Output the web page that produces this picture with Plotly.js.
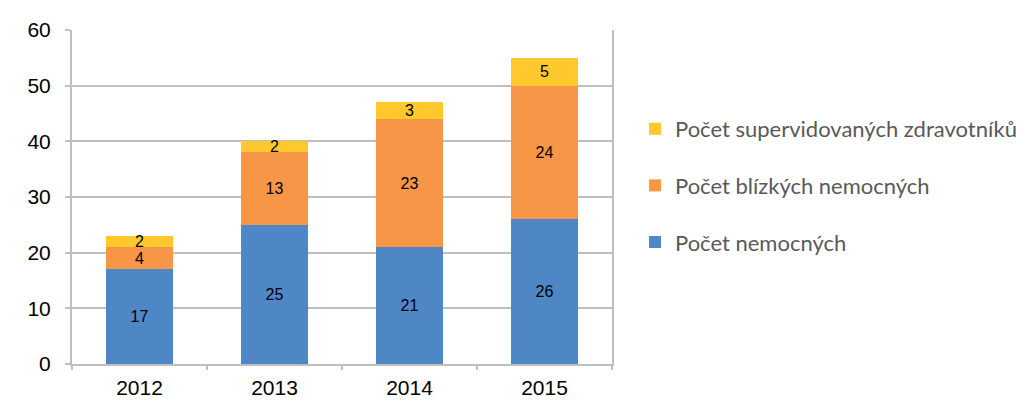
<!DOCTYPE html>
<html>
<head>
<meta charset="utf-8">
<script src="https://cdn.plot.ly/plotly-3.0.1.min.js"></script>
<style>html,body{margin:0;padding:0;background:#fff;}#chart{width:1030px;height:411px;}</style>
</head>
<body>
<div id="chart"></div>
<script>
const years = ['2012', '2013', '2014', '2015'];
const nemocnych = [17, 25, 21, 26];
const blizkych = [4, 13, 23, 24];
const zdravotniku = [2, 2, 3, 5];
const seriesNames = ['Počet nemocných', 'Počet blízkých nemocných', 'Počet supervidovaných zdravotníků'];
const colors = ['#4F86C6', '#F79646', '#FFC82C'];

const xs = years.map((_, i) => i);
function bar(vals, idx) {
  return {
    type: 'bar', x: xs, y: vals, name: seriesNames[idx],
    legendgroup: 'g' + idx, legendrank: 3 - idx,
    marker: {color: colors[idx], line: {width: 0}},
    text: vals.map(String), textposition: 'inside', insidetextanchor: 'middle', textangle: 0,
    textfont: {family: 'Liberation Sans, Arial, sans-serif', size: 16, color: '#000'},
    constraintext: 'none', width: 0.5, hoverinfo: 'skip'
  };
}
const data = [bar(nemocnych, 0), bar(blizkych, 1), bar(zdravotniku, 2),
  {type: 'scatter', x: [-0.5, 3.5], y: [0, 0], xaxis: 'x2', mode: 'none', showlegend: false, hoverinfo: 'skip'}];

const layout = {
  width: 1030, height: 411,
  margin: {l: 72, r: 418, t: 30, b: 47, autoexpand: false},
  barmode: 'stack',
  paper_bgcolor: '#fff', plot_bgcolor: '#fff',
  uniformtext: {mode: 'show', minsize: 16},
  xaxis: {
    range: [-0.5, 3.5], tickvals: xs, ticktext: years, ticks: '', showgrid: false,
    zeroline: false, showline: true, linecolor: '#BFBFBF', linewidth: 2,
    tickfont: {family: 'Liberation Sans, Arial, sans-serif', size: 21, color: '#000'},
    ticklabelstandoff: 4, fixedrange: true
  },
  xaxis2: {
    overlaying: 'x', range: [-0.5, 3.5], tickvals: [-0.5, 0.5, 1.5, 2.5, 3.5],
    showticklabels: false, ticks: 'outside', ticklen: 5, tickcolor: '#BFBFBF', tickwidth: 2,
    showgrid: false, zeroline: false, showline: false, anchor: 'y'
  },
  yaxis: {
    range: [0, 60], dtick: 10, showgrid: true, gridcolor: '#BFBFBF', gridwidth: 2,
    zeroline: false, showline: true, mirror: true, linecolor: '#BFBFBF', linewidth: 2,
    ticks: 'outside', ticklen: 5, tickcolor: '#BFBFBF', tickwidth: 2,
    tickfont: {family: 'Liberation Sans, Arial, sans-serif', size: 21, color: '#000'},
    ticklabelstandoff: 10, fixedrange: true
  },
  showlegend: true,
  legend: {
    xref: 'container', yref: 'container', traceorder: 'grouped', tracegroupgap: 25,
    font: {family: 'Lato, Open Sans, sans-serif', size: 22, color: '#595959'},
    itemwidth: 30, bgcolor: 'rgba(0,0,0,0)', xanchor: 'left', yanchor: 'top'
  }
};
layout.legend.x = 635 / 1030;
layout.legend.y = 1 - 108 / 411;

Plotly.newPlot('chart', data, layout, {displayModeBar: false, staticPlot: true});
</script>
</body>
</html>
